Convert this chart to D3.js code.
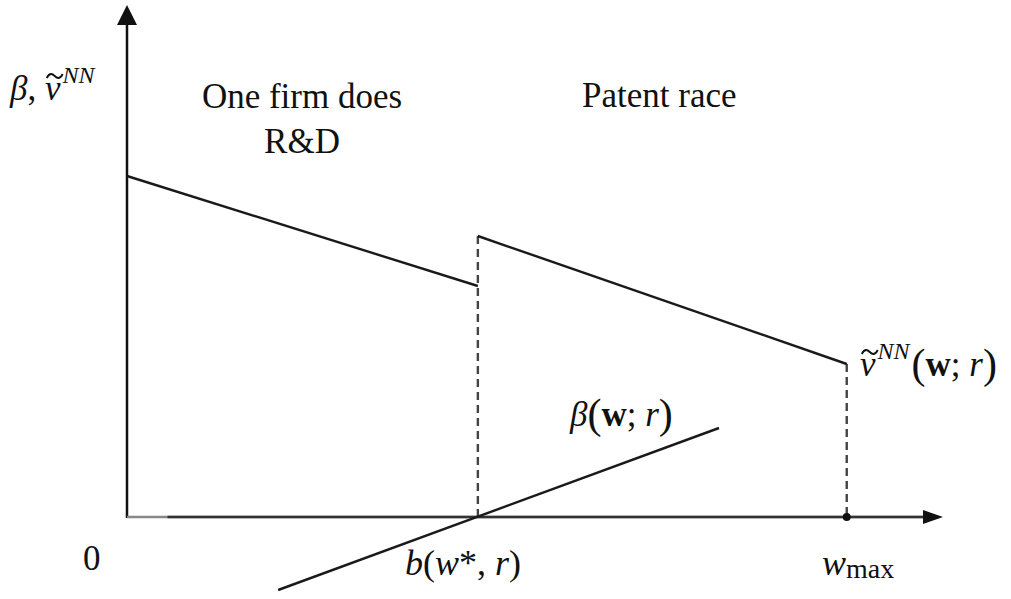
<!DOCTYPE html>
<html>
<head>
<meta charset="utf-8">
<script src="https://cdn.jsdelivr.net/npm/d3@7"></script>
<style>
  body { margin: 0; background: #fff; }
  text { font-family: "Liberation Serif", "Times New Roman", serif; fill: #111; }
</style>
</head>
<body>
<div id="chart"></div>
<script>
// Data (model units)
const wStar = 3.9;
const wMax = 8;
const axisExtent = [9.07, 5.12];
const leftSegment = [[0, 3.41], [wStar, 2.31]];
const rightSegment = [[wStar, 2.81], [wMax, 1.53]];
const betaLine = [[1.68, -0.73], [6.58, 0.89]];
const dropLines = [[wStar, 2.81], [wMax, 1.53]];
const regionLabels = ["One firm does", "R&D", "Patent race"];

const width = 1011, height = 599;
const svg = d3.select("#chart").append("svg")
  .attr("width", width)
  .attr("height", height);

const x = d3.scaleLinear().domain([0, axisExtent[0]]).range([127, 943]);
const y = d3.scaleLinear().domain([0, axisExtent[1]]).range([517, 5]);

const line = d3.line().x(d => x(d[0])).y(d => y(d[1]));

// Axes
svg.append("line")
  .attr("x1", x(0)).attr("x2", x(0))
  .attr("y1", y(0) + 1).attr("y2", y(axisExtent[1]) + 15)
  .attr("stroke", "#111").attr("stroke-width", 2.5);
svg.append("path")
  .attr("d", `M${x(0)},${y(axisExtent[1])} L${x(0) - 10},${y(axisExtent[1]) + 20} L${x(0) + 10},${y(axisExtent[1]) + 20} Z`)
  .attr("fill", "#111");

svg.append("line")
  .attr("x1", x(0)).attr("x2", x(axisExtent[0]) - 15)
  .attr("y1", y(0)).attr("y2", y(0))
  .attr("stroke", "#888").attr("stroke-width", 2.5);
svg.append("line")
  .attr("x1", x(0.45)).attr("x2", x(axisExtent[0]) - 15)
  .attr("y1", y(0)).attr("y2", y(0))
  .attr("stroke", "#333").attr("stroke-width", 2.5);
svg.append("path")
  .attr("d", `M${x(axisExtent[0])},${y(0)} L${x(axisExtent[0]) - 20},${y(0) - 7} L${x(axisExtent[0]) - 20},${y(0) + 7} Z`)
  .attr("fill", "#111");

// Dashed drop lines
svg.selectAll(".drop")
  .data(dropLines)
  .enter()
  .append("line")
  .attr("class", "drop")
  .attr("x1", d => x(d[0])).attr("x2", d => x(d[0]))
  .attr("y1", d => y(d[1])).attr("y2", y(0))
  .attr("stroke", "#444")
  .attr("stroke-width", 2.4)
  .attr("stroke-dasharray", "8 5");

// Curves
[leftSegment, rightSegment, betaLine].forEach(seg => {
  svg.append("path")
    .attr("d", line(seg))
    .attr("fill", "none")
    .attr("stroke", "#1a1a1a")
    .attr("stroke-width", 2.4);
});

svg.append("circle")
  .attr("cx", x(wMax)).attr("cy", y(0))
  .attr("r", 4).attr("fill", "#111");

// Region labels
svg.append("text")
  .attr("x", 302).attr("y", 108)
  .attr("text-anchor", "middle").attr("font-size", 35)
  .text(regionLabels[0]);
svg.append("text")
  .attr("x", 302).attr("y", 153)
  .attr("text-anchor", "middle").attr("font-size", 35)
  .text(regionLabels[1]);
svg.append("text")
  .attr("x", 582).attr("y", 107)
  .attr("font-size", 35)
  .text(regionLabels[2]);

// wide tilde (drawn as a path) over the italic v at char index i
function addTilde(textSel, i, baseline) {
  const p = textSel.node().getStartPositionOfChar(i);
  const w = textSel.node().getExtentOfChar(i).width;
  const cx = p.x + w / 2 + 2, cy = baseline - 24;
  svg.append("path")
    .attr("d", `M${cx - 8},${cy + 2} C${cx - 5},${cy - 4} ${cx - 2},${cy - 2} ${cx},${cy} S${cx + 5},${cy + 4} ${cx + 8},${cy - 2}`)
    .attr("fill", "none")
    .attr("stroke", "#111")
    .attr("stroke-width", 1.8);
}

// Y axis label: beta, v~^NN
const yl = svg.append("text").attr("x", 10).attr("y", 100).attr("font-size", 35);
yl.append("tspan").attr("font-style", "italic").text("β");
yl.append("tspan").text(", ");
yl.append("tspan").attr("font-style", "italic").text("v");
yl.append("tspan").attr("font-style", "italic").attr("font-size", 24).attr("dy", -17).attr("dx", 2).text("NN");
addTilde(yl, 3, 100);

// v~^NN(w; r)
const vl = svg.append("text").attr("x", 860).attr("y", 376).attr("font-size", 35);
vl.append("tspan").attr("font-style", "italic").text("v");
vl.append("tspan").attr("font-style", "italic").attr("font-size", 24).attr("dy", -17).attr("dx", 2).text("NN");
vl.append("tspan").attr("font-size", 42).attr("dy", 19).attr("dx", 2).text("(");
vl.append("tspan").attr("font-weight", "bold").attr("dy", -2).text("w");
vl.append("tspan").text("; ");
vl.append("tspan").attr("font-style", "italic").text("r");
vl.append("tspan").attr("font-size", 42).attr("dy", 2).text(")");
addTilde(vl, 0, 376);

// beta(w; r)
const bl = svg.append("text").attr("x", 570).attr("y", 426).attr("font-size", 35);
bl.append("tspan").attr("font-style", "italic").text("β");
bl.append("tspan").attr("font-size", 42).attr("dy", 2).text("(");
bl.append("tspan").attr("font-weight", "bold").attr("dy", -2).text("w");
bl.append("tspan").text("; ");
bl.append("tspan").attr("font-style", "italic").text("r");
bl.append("tspan").attr("font-size", 42).attr("dy", 2).text(")");

// b(w*, r)
const wl = svg.append("text").attr("x", 405).attr("y", 575).attr("font-size", 36);
wl.append("tspan").attr("font-style", "italic").text("b");
wl.append("tspan").text("(");
wl.append("tspan").attr("font-style", "italic").text("w");
wl.append("tspan").text("*, ");
wl.append("tspan").attr("font-style", "italic").text("r");
wl.append("tspan").text(")");

// Origin and w_max
svg.append("text").attr("x", 83).attr("y", 570).attr("font-size", 35).text("0");
const ml = svg.append("text").attr("x", 822).attr("y", 575).attr("font-size", 36);
ml.append("tspan").attr("font-style", "italic").text("w");
ml.append("tspan").attr("font-size", 28).attr("dy", 3).text("max");
</script>
</body>
</html>
